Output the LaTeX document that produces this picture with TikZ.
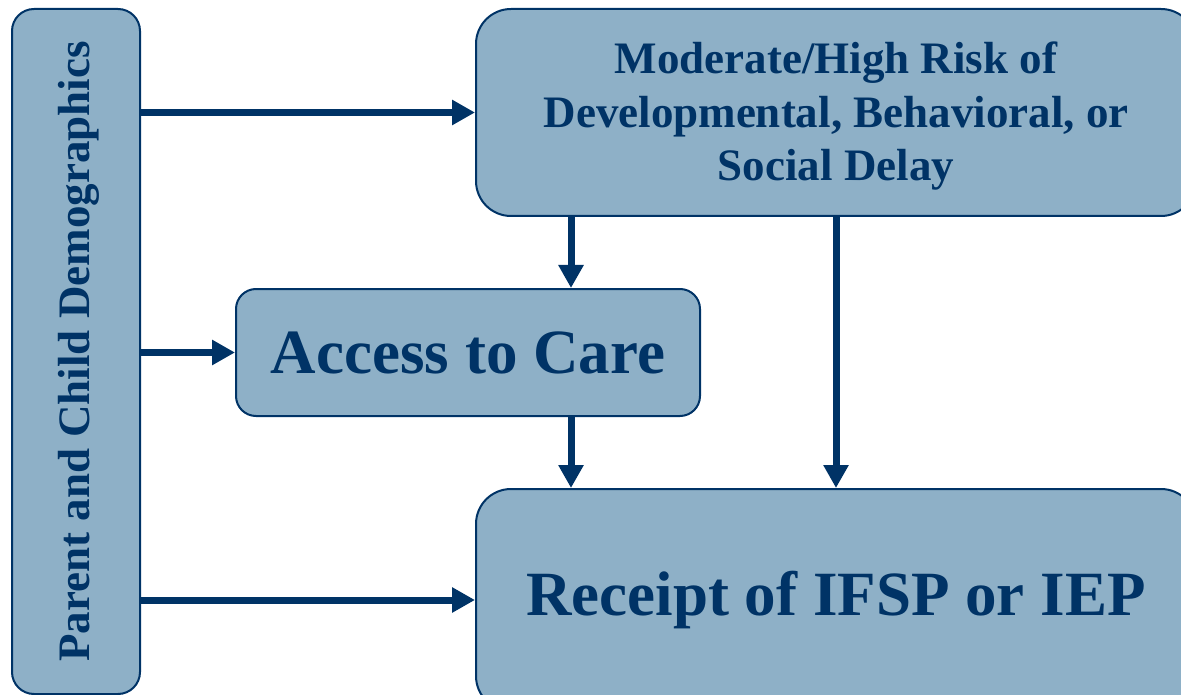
\documentclass[tikz,border=0pt]{standalone}
\usepackage{fontspec}
\setmainfont{Liberation Serif}
\usetikzlibrary{arrows.meta,calc}

\definecolor{navy}{RGB}{0,51,102}
\definecolor{boxfill}{RGB}{142,176,199}

\begin{document}
\begin{tikzpicture}[x=1pt,y=-1pt,
  box/.style={draw=navy, line width=2pt, fill=boxfill, inner sep=0pt},
  label/.style={text=navy, align=center, inner sep=0pt},
  flow/.style={draw=navy, line width=7pt,
    -{Triangle[length=23pt,width=24pt]}},
  big/.style={font=\bfseries\fontsize{63}{70}\selectfont},
  mid/.style={font=\bfseries\fontsize{45}{53.5}\selectfont}]

\useasboundingbox (0,0) rectangle (1181,695);
\clip (0,0) rectangle (1181,695);

% boxes
\node[box, rounded corners=22pt, minimum width=128pt, minimum height=685pt]
  (demo) at (76,351.5) {};
\node[box, rounded corners=35pt, minimum width=720pt, minimum height=207pt]
  (risk) at (836,112.5) {};
\node[box, rounded corners=20pt, minimum width=464pt, minimum height=127pt]
  (access) at (468,352.5) {};
\node[box, rounded corners=35pt, minimum width=720pt, minimum height=222pt]
  (receipt) at (836,600) {};

% box texts
\node[label, mid] (demotext) at ($(demo.center)+(2.5,0)$)
  {\rotatebox{90}{Parent and Child Demographics}};
\node[label, mid] (risktext) at ($(risk.center)+(0,4)$)
  {Moderate/High Risk of\\Developmental, Behavioral, or\\Social Delay};
\node[label, big] (accesstext) at (access.center) {Access to Care};
\node[label, big] (receipttext) at (receipt.center) {Receipt of IFSP or IEP};

% column of the left pair of vertical arrows
\coordinate (col) at (571,0);

% connectors
\draw[flow] (demo.east |- risk.west) -- (risk.west);
\draw[flow] (demo.east |- access.west) -- (access.west);
\draw[flow] (demo.east |- receipt.west) -- (receipt.west);
\draw[flow] (risk.south -| col) -- (access.north -| col);
\draw[flow] (access.south -| col) -- (receipt.north -| col);
\draw[flow] (risk.south) -- (receipt.north);
\end{tikzpicture}
\end{document}
